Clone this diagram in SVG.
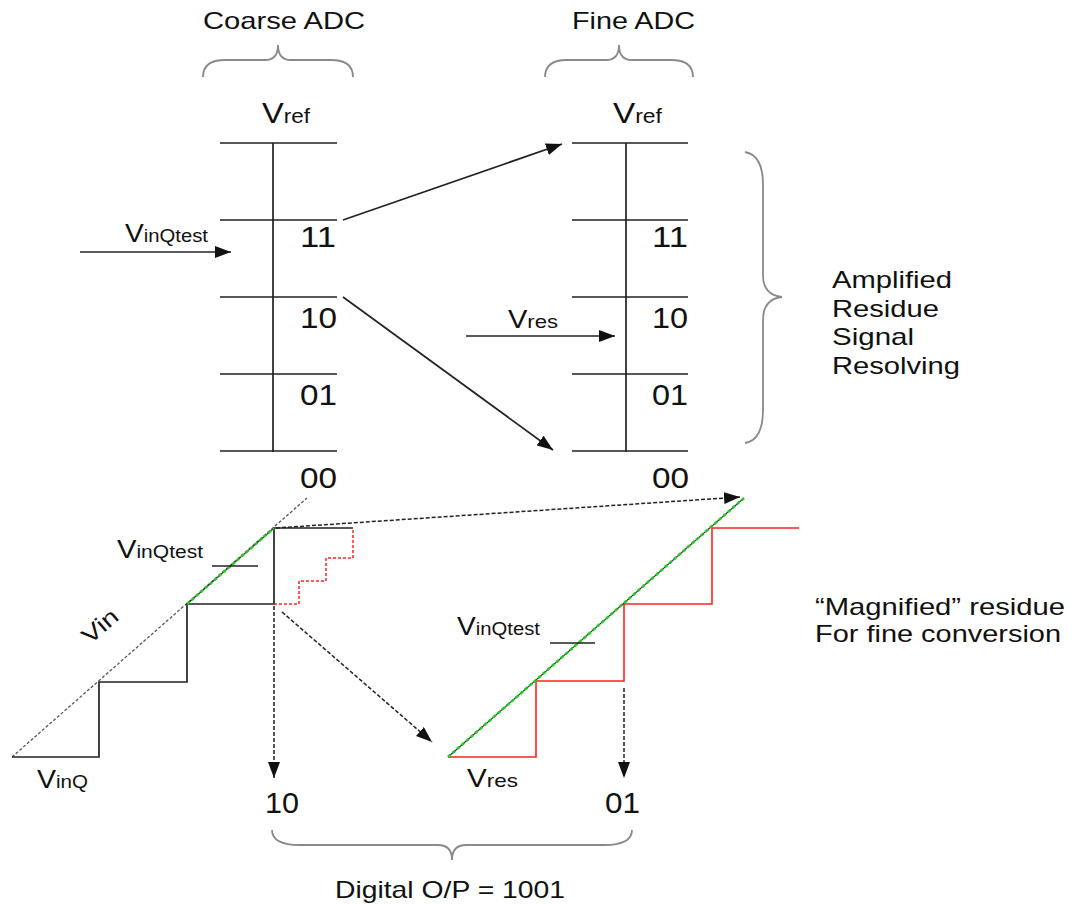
<svg xmlns="http://www.w3.org/2000/svg" width="1072" height="905" viewBox="0 0 1072 905">
<style>
text{font-family:"Liberation Sans",Arial,sans-serif;fill:#111}
.t{font-size:24px}
.d{font-size:30px}
.ln{stroke:#222;stroke-width:1.7;fill:none}
.br{stroke:#8a8a8a;stroke-width:1.8;fill:none}
.ar{stroke:#222;stroke-width:1.7;fill:none;marker-end:url(#ah)}
.da{stroke:#222;stroke-width:1.5;fill:none;stroke-dasharray:4,2;marker-end:url(#ah)}
.gd{stroke:#555;stroke-width:1.3;fill:none;stroke-dasharray:3,2}
.gr{stroke:#22cc22;stroke-width:2.6;fill:none;stroke-dasharray:3.5,2.5}
.rd{stroke:#ff2222;stroke-width:1.6;fill:none}
.rdd{stroke:#ff2222;stroke-width:1.5;fill:none;stroke-dasharray:3,2}
</style>
<defs>
<marker id="ah" viewBox="0 0 16 12" refX="16" refY="6" markerWidth="16" markerHeight="12" markerUnits="userSpaceOnUse" orient="auto">
<path d="M0,0 L16,6 L0,12 z" fill="#111"/>
</marker>
</defs>
<rect width="1072" height="905" fill="#fff"/>

<g id="coarse-title">
<text class="t" x="203" y="29" textLength="162" lengthAdjust="spacingAndGlyphs">Coarse ADC</text>
<path class="br" d="M203,77 Q203,60 225,60 L265,60 Q278,60 278,45 Q278,60 291,60 L331,60 Q353,60 353,77"/>
</g>
<g id="fine-title">
<text class="t" x="572" y="29" textLength="123" lengthAdjust="spacingAndGlyphs">Fine ADC</text>
<path class="br" d="M545,77 Q545,60 567,60 L606,60 Q619,60 619,45 Q619,60 632,60 L671,60 Q693,60 693,77"/>
</g>

<g id="coarse-adc">
<text x="262" y="123" textLength="48" lengthAdjust="spacingAndGlyphs"><tspan font-size="29">V</tspan><tspan font-size="20">ref</tspan></text>
<path class="ln" d="M273,143 V452 M220,143 H337 M220,220 H337 M220,297 H337 M220,374 H337 M220,451 H337"/>
<text class="d" x="300" y="247" textLength="36" lengthAdjust="spacingAndGlyphs">11</text>
<text class="d" x="300" y="328" textLength="37" lengthAdjust="spacingAndGlyphs">10</text>
<text class="d" x="300" y="405" textLength="37" lengthAdjust="spacingAndGlyphs">01</text>
<text class="d" x="300" y="488" textLength="37" lengthAdjust="spacingAndGlyphs">00</text>
</g>

<g id="fine-adc">
<text x="613" y="123" textLength="49" lengthAdjust="spacingAndGlyphs"><tspan font-size="29">V</tspan><tspan font-size="20">ref</tspan></text>
<path class="ln" d="M626,143 V452 M572,143 H688 M572,220 H688 M572,297 H688 M572,374 H688 M572,451 H688"/>
<text class="d" x="652" y="247" textLength="36" lengthAdjust="spacingAndGlyphs">11</text>
<text class="d" x="652" y="328" textLength="36" lengthAdjust="spacingAndGlyphs">10</text>
<text class="d" x="652" y="405" textLength="36" lengthAdjust="spacingAndGlyphs">01</text>
<text class="d" x="652" y="488" textLength="37" lengthAdjust="spacingAndGlyphs">00</text>
</g>

<g id="vinqtest-input">
<text x="125" y="242" textLength="83" lengthAdjust="spacingAndGlyphs"><tspan font-size="25">V</tspan><tspan font-size="18">inQtest</tspan></text>
</g>
<g id="vres-input">
<text x="508" y="328" textLength="50" lengthAdjust="spacingAndGlyphs"><tspan font-size="25">V</tspan><tspan font-size="19">res</tspan></text>
</g>

<g id="residue-brace">
<path class="br" d="M745,152 Q763,155 763,185 L763,275 Q763,295 782,297 Q763,299 763,320 L763,410 Q763,440 745,443"/>
<text class="t" x="832" y="288" textLength="120" lengthAdjust="spacingAndGlyphs">Amplified</text>
<text class="t" x="832" y="317" textLength="107" lengthAdjust="spacingAndGlyphs">Residue</text>
<text class="t" x="832" y="345" textLength="82" lengthAdjust="spacingAndGlyphs">Signal</text>
<text class="t" x="832" y="374" textLength="128" lengthAdjust="spacingAndGlyphs">Resolving</text>
</g>

<g id="coarse-transfer">
<path class="gd" d="M12,757 L307,498"/>
<path class="ln" d="M12,757 H99 V682 H187 V604 H274 V528 H353"/>
<path stroke="#333" stroke-width="1.2" fill="none" d="M187,604 L274,528"/>
<path class="gr" d="M187,604 L274,528"/>
<path class="rdd" d="M274,604 H299 V581 H326 V558 H353 V528"/>
<text x="117" y="558" textLength="86" lengthAdjust="spacingAndGlyphs"><tspan font-size="25">V</tspan><tspan font-size="18">inQtest</tspan></text>
<path class="ln" d="M212,566 H258"/>
<text x="90" y="645" font-size="23" transform="rotate(-41 90 645)" textLength="40" lengthAdjust="spacingAndGlyphs">Vin</text>
<text x="37" y="788" textLength="51" lengthAdjust="spacingAndGlyphs"><tspan font-size="25">V</tspan><tspan font-size="18">inQ</tspan></text>
<text class="d" x="265" y="813" textLength="34" lengthAdjust="spacingAndGlyphs">10</text>
</g>

<g id="fine-transfer">
<path class="rd" d="M448,757 H536 V681 H624 V604 H712 V528 H799"/>
<path stroke="#333" stroke-width="1.2" fill="none" d="M448,757 L744,498"/>
<path class="gr" d="M448,757 L744,498"/>
<text x="457" y="635" textLength="83" lengthAdjust="spacingAndGlyphs"><tspan font-size="25">V</tspan><tspan font-size="18">inQtest</tspan></text>
<path class="ln" d="M550,643 H595"/>
<text x="467" y="787" textLength="51" lengthAdjust="spacingAndGlyphs"><tspan font-size="25">V</tspan><tspan font-size="19">res</tspan></text>
<text class="d" x="605" y="813" textLength="35" lengthAdjust="spacingAndGlyphs">01</text>
<text class="t" x="815" y="615" textLength="250" lengthAdjust="spacingAndGlyphs">“Magnified” residue</text>
<text class="t" x="815" y="642" textLength="246" lengthAdjust="spacingAndGlyphs">For fine conversion</text>
</g>

<g id="output">
<path class="br" d="M272,830 Q272,845 300,845 L438,845 Q452,845 452,860 Q452,845 466,845 L604,845 Q632,845 632,830"/>
<text class="t" x="335" y="898" textLength="230" lengthAdjust="spacingAndGlyphs">Digital O/P = 1001</text>
</g>

<g id="connectors">
<path class="ar" d="M343,220 L562,144"/>
<path class="ar" d="M343,297 L553,450"/>
<path class="ar" d="M80,252 L231,252"/>
<path class="ar" d="M466,336 L615,336"/>
<path class="da" d="M276,528 L740,497"/>
<path class="da" d="M274,606 L274,778"/>
<path class="da" d="M282,612 L432,742"/>
<path class="da" d="M624,688 L624,778"/>
</g>
</svg>
